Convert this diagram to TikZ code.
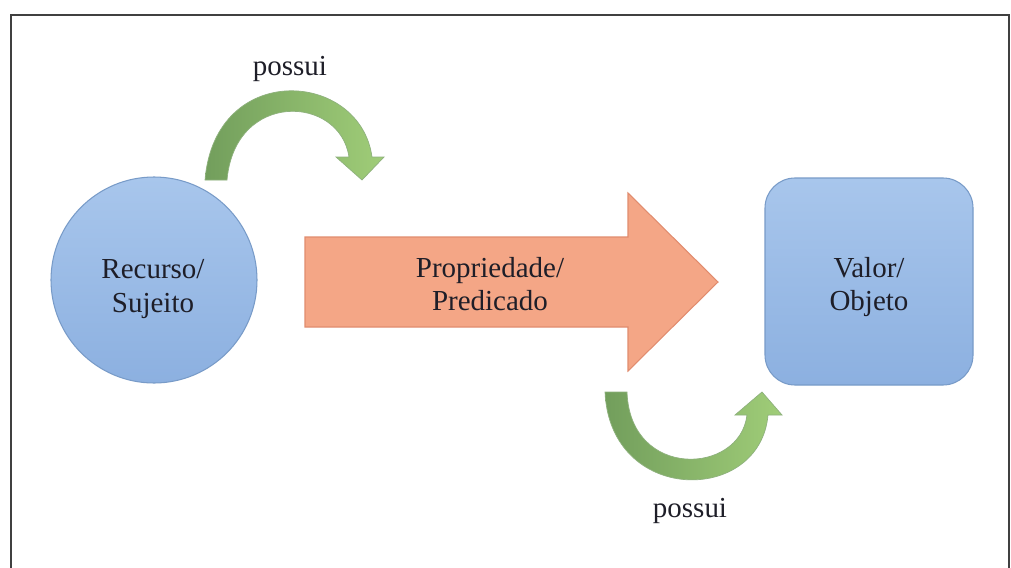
\documentclass[tikz,border=0pt]{standalone}
\usepackage{fontspec}
\setmainfont{Liberation Serif}
\usetikzlibrary{shapes.geometric}
\definecolor{bluetop}{RGB}{168,198,236}
\definecolor{bluebot}{RGB}{140,176,224}
\definecolor{blueline}{RGB}{120,155,200}
\definecolor{orangefill}{RGB}{244,166,134}
\definecolor{orangeline}{RGB}{225,140,110}
\definecolor{greendark}{RGB}{114,158,92}
\definecolor{greenlight}{RGB}{160,205,120}
\definecolor{frameline}{RGB}{64,64,64}
\definecolor{txt}{RGB}{30,30,40}
\tikzset{
  lbl/.style={font=\fontsize{16.5}{19}\selectfont, text=txt, align=center},
  greenarrow/.style={draw=greendark!80!white, line width=0.4pt, left color=greendark, right color=greenlight},
}
\begin{document}
\begin{tikzpicture}[x=0.02cm,y=-0.02cm]
\useasboundingbox (0,0) rectangle (1011,568);
\fill[white] (0,0) rectangle (1011,568);
% frame
\draw[frameline, line width=1.2pt] (11,568) -- (11,15) -- (1009,15) -- (1009,568);

% subject circle
\node[circle, draw=blueline, line width=0.6pt, top color=bluetop, bottom color=bluebot,
      minimum size=206*0.02cm, inner sep=0pt] (subj) at (154,280) {};
\node[lbl] (subjtxt) at (153,289) {Recurso/\\Sujeito};

% object box
\node[rectangle, rounded corners=0.6cm, draw=blueline, line width=0.6pt, top color=bluetop, bottom color=bluebot,
      minimum width=208*0.02cm, minimum height=207*0.02cm, inner sep=0pt] (obj) at (869,281.5) {};
\node[lbl] (objtxt) at (869,287) {Valor/\\Objeto};

% big property arrow
\path[fill=orangefill, draw=orangeline, line width=0.6pt]
  (305,237) -- (628,237) -- (628,193) -- (718,282) -- (628,371) -- (628,327) -- (305,327) -- cycle;
\node[lbl] (prop) at (490,284) {Propriedade/\\Predicado};

% top curved arrow
\path[greenarrow]
  (205,180) .. controls (215,60) and (360,70) .. (372,157)
  -- (384,157) -- (362,180) -- (336,157) -- (349,157)
  .. controls (340,95) and (235,90) .. (227,180) -- cycle;
\node[lbl] (top) at (290,69) {possui};

% bottom curved arrow
\path[greenarrow]
  (605,392) .. controls (610,505) and (760,505) .. (768,415)
  -- (782,415) -- (762,392) -- (735,415) -- (747,415)
  .. controls (740,475) and (630,480) .. (627,392) -- cycle;
\node[lbl] (bot) at (690,511) {possui};
\end{tikzpicture}
\end{document}
